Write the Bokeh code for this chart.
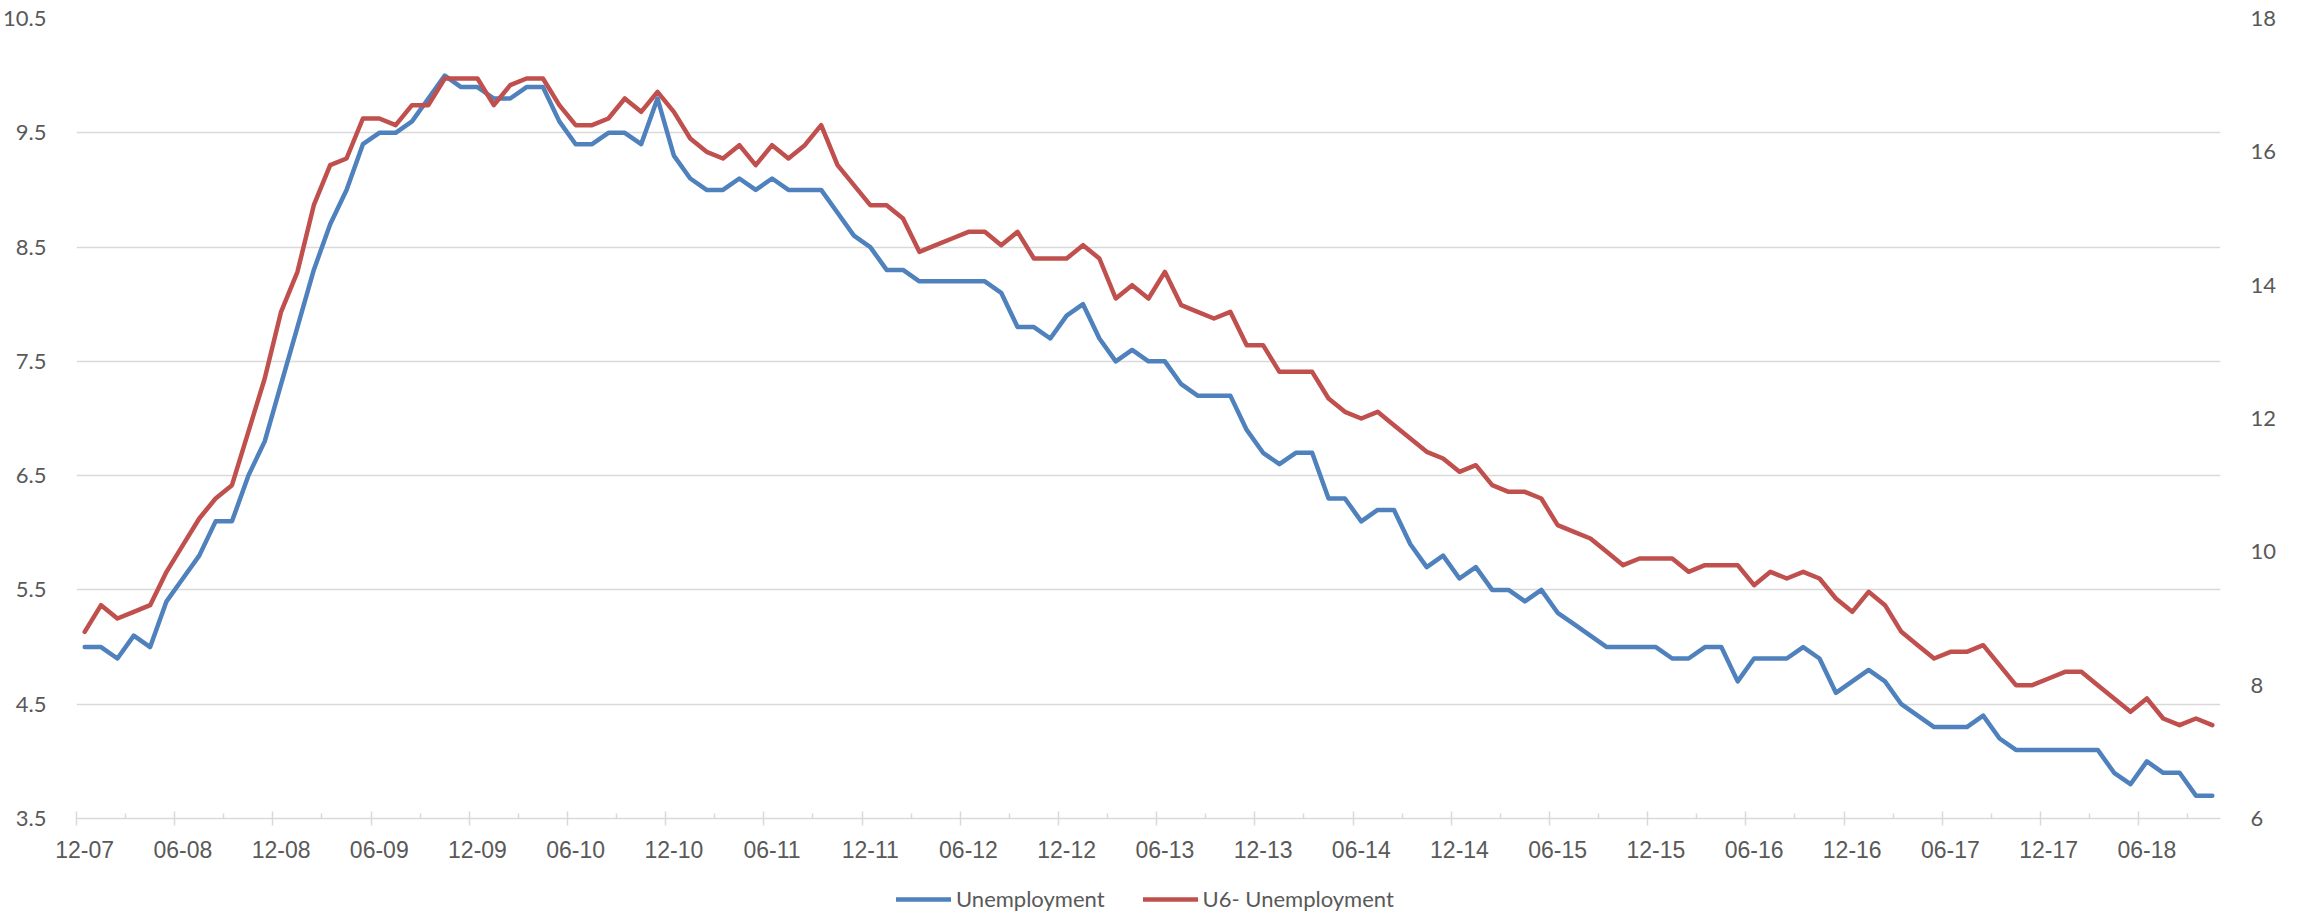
import pandas as pd
from bokeh.plotting import figure
from bokeh.layouts import column
from bokeh.models import (Range1d, LinearAxis, FixedTicker, Legend, LegendItem,
                          Grid, ColumnDataSource)
from bokeh.embed import file_html
from bokeh.resources import INLINE

# ---------------- data ----------------
unemployment = [
    5.0,
    5.0, 4.9, 5.1, 5.0, 5.4, 5.6, 5.8, 6.1, 6.1, 6.5, 6.8, 7.3,
    7.8, 8.3, 8.7, 9.0, 9.4, 9.5, 9.5, 9.6, 9.8, 10.0, 9.9, 9.9,
    9.8, 9.8, 9.9, 9.9, 9.6, 9.4, 9.4, 9.5, 9.5, 9.4, 9.8, 9.3,
    9.1, 9.0, 9.0, 9.1, 9.0, 9.1, 9.0, 9.0, 9.0, 8.8, 8.6, 8.5,
    8.3, 8.3, 8.2, 8.2, 8.2, 8.2, 8.2, 8.1, 7.8, 7.8, 7.7, 7.9,
    8.0, 7.7, 7.5, 7.6, 7.5, 7.5, 7.3, 7.2, 7.2, 7.2, 6.9, 6.7,
    6.6, 6.7, 6.7, 6.3, 6.3, 6.1, 6.2, 6.2, 5.9, 5.7, 5.8, 5.6,
    5.7, 5.5, 5.5, 5.4, 5.5, 5.3, 5.2, 5.1, 5.0, 5.0, 5.0, 5.0,
    4.9, 4.9, 5.0, 5.0, 4.7, 4.9, 4.9, 4.9, 5.0, 4.9, 4.6, 4.7,
    4.8, 4.7, 4.5, 4.4, 4.3, 4.3, 4.3, 4.4, 4.2, 4.1, 4.1, 4.1,
    4.1, 4.1, 4.1, 3.9, 3.8, 4.0, 3.9, 3.9, 3.7, 3.7,
]
u6_unemployment = [
    8.8,
    9.2, 9.0, 9.1, 9.2, 9.7, 10.1, 10.5, 10.8, 11.0, 11.8, 12.6, 13.6,
    14.2, 15.2, 15.8, 15.9, 16.5, 16.5, 16.4, 16.7, 16.7, 17.1, 17.1, 17.1,
    16.7, 17.0, 17.1, 17.1, 16.7, 16.4, 16.4, 16.5, 16.8, 16.6, 16.9, 16.6,
    16.2, 16.0, 15.9, 16.1, 15.8, 16.1, 15.9, 16.1, 16.4, 15.8, 15.5, 15.2,
    15.2, 15.0, 14.5, 14.6, 14.7, 14.8, 14.8, 14.6, 14.8, 14.4, 14.4, 14.4,
    14.6, 14.4, 13.8, 14.0, 13.8, 14.2, 13.7, 13.6, 13.5, 13.6, 13.1, 13.1,
    12.7, 12.7, 12.7, 12.3, 12.1, 12.0, 12.1, 11.9, 11.7, 11.5, 11.4, 11.2,
    11.3, 11.0, 10.9, 10.9, 10.8, 10.4, 10.3, 10.2, 10.0, 9.8, 9.9, 9.9,
    9.9, 9.7, 9.8, 9.8, 9.8, 9.5, 9.7, 9.6, 9.7, 9.6, 9.3, 9.1,
    9.4, 9.2, 8.8, 8.6, 8.4, 8.5, 8.5, 8.6, 8.3, 8.0, 8.0, 8.1,
    8.2, 8.2, 8.0, 7.8, 7.6, 7.8, 7.5, 7.4, 7.5, 7.4,
]
months = list(pd.period_range("2007-12", periods=len(unemployment), freq="M").strftime("%m-%y"))
left_ticks = [3.5, 4.5, 5.5, 6.5, 7.5, 8.5, 9.5, 10.5]
right_ticks = [6, 8, 10, 12, 14, 16, 18]
series_names = ["Unemployment", "U6- Unemployment"]
series_colors = ["#4f81bd", "#c0504d"]
label_step = 6

n = len(months)
idx = list(range(n))
src = ColumnDataSource(dict(x=idx, u=unemployment, u6=u6_unemployment, m=months))

GRID = "#d9d9d9"
TXT = "#595959"
LW = 4.5

# ---------------- main figure ----------------
p = figure(width=2289, height=878, output_backend="svg", toolbar_location=None,
           x_range=Range1d(-0.5, n - 0.5), y_range=Range1d(left_ticks[0], left_ticks[-1]),
           x_axis_location=None, y_axis_location=None,
           min_border_left=69, min_border_right=69, min_border_top=18, min_border_bottom=60)
p.outline_line_color = None
p.background_fill_color = "white"
p.border_fill_color = "white"
p.grid.visible = False
p.extra_y_ranges = {"u6": Range1d(right_ticks[0], right_ticks[-1])}

left_axis = LinearAxis(ticker=FixedTicker(ticks=left_ticks), axis_line_color=None,
                       major_tick_line_color=None, minor_tick_line_color=None,
                       major_label_text_font="Lato", major_label_text_font_size="22px",
                       major_label_text_color=TXT, major_label_standoff=24)
p.add_layout(left_axis, "left")
right_axis = LinearAxis(y_range_name="u6", ticker=FixedTicker(ticks=right_ticks), axis_line_color=None,
                        major_tick_line_color=None, minor_tick_line_color=None,
                        major_label_text_font="Lato", major_label_text_font_size="22px",
                        major_label_text_color=TXT, major_label_standoff=24)
p.add_layout(right_axis, "right")

p.add_layout(Grid(dimension=1, ticker=left_axis.ticker, grid_line_color=GRID, grid_line_width=1.5))

# tick-mark axis (ticks between categories, no labels)
major_b = [i - 0.5 for i in range(0, n, label_step)]
minor_b = [i - 0.5 for i in range(label_step // 2, n, label_step)]
tick_axis = LinearAxis(ticker=FixedTicker(ticks=major_b, minor_ticks=minor_b),
                       axis_line_color=GRID, axis_line_width=1.5,
                       major_tick_line_color=GRID, major_tick_line_width=1.5,
                       major_tick_in=7, major_tick_out=7,
                       minor_tick_line_color=GRID, minor_tick_line_width=1.5,
                       minor_tick_in=5, minor_tick_out=0,
                       major_label_text_font_size="1px", major_label_text_color=None,
                       major_label_standoff=0)
p.add_layout(tick_axis, "below")
# label axis (labels centred on categories)
lab_pos = list(range(0, n, label_step))
label_axis = LinearAxis(ticker=FixedTicker(ticks=lab_pos, minor_ticks=[]),
                        major_label_overrides={i: months[i] for i in lab_pos},
                        axis_line_color=None, major_tick_line_color=None, minor_tick_line_color=None,
                        major_tick_in=0, major_tick_out=0,
                        major_label_text_font="Liberation Sans", major_label_text_font_size="23px",
                        major_label_text_color=TXT, major_label_standoff=15)
p.add_layout(label_axis, "below")

p.line("x", "u", source=src, line_color=series_colors[0], line_width=LW,
       line_join="round", line_cap="round")
p.line("x", "u6", source=src, y_range_name="u6", line_color=series_colors[1], line_width=LW,
       line_join="round", line_cap="round")

# ---------------- legend strip ----------------
# the series are re-drawn here only as legend keys; the data lie outside this strip's ranges
lg = figure(width=2289, height=34, output_backend="svg", toolbar_location=None,
            x_range=Range1d(0, 1), y_range=Range1d(0, 1),
            x_axis_location=None, y_axis_location=None,
            min_border_left=0, min_border_right=0, min_border_top=0, min_border_bottom=0)
lg.outline_line_color = None
lg.grid.visible = False
lg.border_fill_color = "white"
proxies = [lg.line("x", fld, source=src, line_color=c, line_width=LW, line_cap="round")
           for fld, c in zip(["u", "u6"], series_colors)]
legend = Legend(items=[LegendItem(label=nm, renderers=[r]) for nm, r in zip(series_names, proxies)],
                orientation="horizontal", location=(820, 0),
                glyph_width=55, glyph_height=20, label_standoff=5, spacing=38,
                padding=0, margin=0, border_line_color=None, background_fill_alpha=0,
                label_text_font="Lato", label_text_font_size="22px", label_text_color=TXT)
lg.add_layout(legend)

layout = column(p, lg, spacing=0)
open("out.html", "w").write(file_html(layout, INLINE))
